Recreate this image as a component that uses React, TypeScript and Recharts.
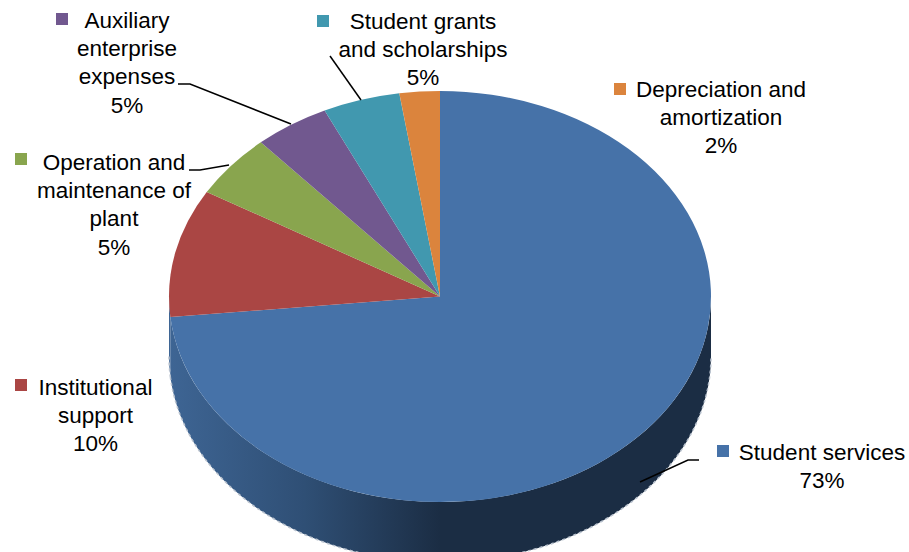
import { PieChart, Pie, Cell, Sector } from "recharts";

const categories = [
  "Student services",
  "Institutional support",
  "Operation and maintenance of plant",
  "Auxiliary enterprise expenses",
  "Student grants and scholarships",
  "Depreciation and amortization",
];
const shares = [73.4, 10.1, 5.0, 4.5, 4.6, 2.4];
const colors = ["#4672A8", "#AA4644", "#89A54E", "#71588F", "#4198AF", "#DB843D"];

const data = categories.map((name, i) => ({ name, value: shares[i] }));

// how Excel wrapped the labels, and where it put them
const labelLines = [
  ["Student services"],
  ["Institutional", "support"],
  ["Operation and", "maintenance of", "plant"],
  ["Auxiliary", "enterprise", "expenses"],
  ["Student grants", "and scholarships"],
  ["Depreciation and", "amortization"],
];
const labelSpots = [
  { x: 822, y: 460, mx: 717, my: 445 },
  { x: 95.5, y: 395, mx: 15, my: 379 },
  { x: 114, y: 170, mx: 15, my: 153 },
  { x: 127, y: 28, mx: 56, my: 13 },
  { x: 423, y: 29, mx: 317, my: 15 },
  { x: 721, y: 97, mx: 614, my: 83 },
];
const leaders = [
  "699,460 688,460 640,482",
  "",
  "189,170 200,170 229,165",
  "178,84 190,84 291,124",
  "330,56 361,100",
  "",
];

const squash = 205.5 / 271;
const depth = 60;

const TopSlice = (props: any) => {
  const { cx, cy } = props;
  return (
    <g transform={`translate(${cx} ${cy}) scale(1 ${squash}) translate(${-cx} ${-cy})`}>
      <Sector {...props} stroke="none" />
    </g>
  );
};

// side of the disc: only the part of a slice on the front half shows
const WallSlice = (props: any) => {
  const { cx, cy, outerRadius: r, startAngle, endAngle } = props;
  const from = Math.min(startAngle, 0);
  const to = Math.max(endAngle, -180);
  if (from <= to) return <g />;
  const px = (a: number) => cx + r * Math.cos((a * Math.PI) / 180);
  const py = (a: number) => cy - r * squash * Math.sin((a * Math.PI) / 180);
  const ry = r * squash;
  const d =
    `M${px(from)},${py(from)} A${r},${ry} 0 0 1 ${px(to)},${py(to)} ` +
    `L${px(to)},${py(to) + depth} A${r},${ry} 0 0 0 ${px(from)},${py(from) + depth} Z`;
  const rim = `M${px(to)},${py(to) + depth} A${r},${ry} 0 0 0 ${px(from)},${py(from) + depth}`;
  return (
    <g>
      <path d={d} fill="url(#wall)" stroke="none" />
      <path d={rim} fill="none" stroke="#B9C2CE" strokeWidth={1.5} strokeDasharray="3 3" />
    </g>
  );
};

const SliceLabel = (props: any) => {
  const i = props.index;
  const spot = labelSpots[i];
  const lines = [...labelLines[i], `${Math.round(shares[i])}%`];
  return (
    <g>
      {leaders[i] && <polyline points={leaders[i]} fill="none" stroke="#000" strokeWidth={1.5} />}
      <rect x={spot.mx} y={spot.my} width={12} height={12} fill={colors[i]} />
      <text
        textAnchor="middle"
        fontFamily="'Liberation Sans', Arial, sans-serif"
        fontSize={22.5}
        fill="#000"
      >
        {lines.map((t, k) => (
          <tspan key={k} x={spot.x} y={spot.y + k * 28.2}>
            {t}
          </tspan>
        ))}
      </text>
    </g>
  );
};

export default function App() {
  return (
    <div style={{ position: "fixed", left: 0, top: 0, width: 909, height: 552, overflow: "hidden", background: "#fff" }}>
      <PieChart width={909} height={552} margin={{ top: 0, right: 0, bottom: 0, left: 0 }}>
        <defs>
          <linearGradient id="wall" gradientUnits="userSpaceOnUse" x1={169} y1={0} x2={711} y2={0}>
            <stop offset="0" stopColor="#3E6594" />
            <stop offset="0.25" stopColor="#2F4F75" />
            <stop offset="0.5" stopColor="#1B2D44" />
            <stop offset="1" stopColor="#1B2D44" />
          </linearGradient>
        </defs>
        <Pie
          data={data}
          dataKey="value"
          nameKey="name"
          cx={440}
          cy={296.5}
          outerRadius={271}
          startAngle={90}
          endAngle={-270}
          paddingAngle={0}
          stroke="none"
          shape={WallSlice}
          isAnimationActive={false}
        />
        <Pie
          data={data}
          dataKey="value"
          nameKey="name"
          cx={440}
          cy={296.5}
          outerRadius={271}
          startAngle={90}
          endAngle={-270}
          paddingAngle={0}
          stroke="none"
          shape={TopSlice}
          label={SliceLabel}
          labelLine={false}
          isAnimationActive={false}
        >
          {data.map((d, i) => (
            <Cell key={d.name} fill={colors[i]} />
          ))}
        </Pie>
      </PieChart>
    </div>
  );
}
